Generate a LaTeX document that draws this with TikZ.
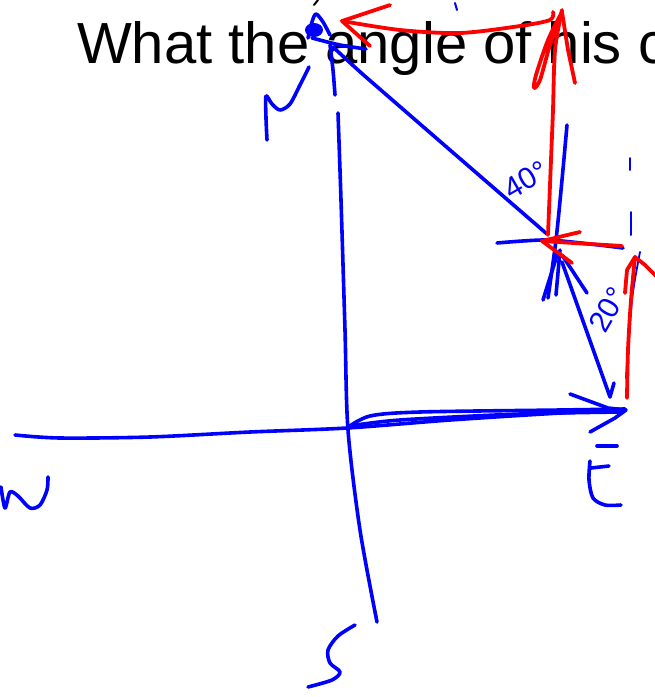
\documentclass[tikz,border=0pt]{standalone}
\usepackage{fontspec}
\setmainfont{Liberation Sans}
\begin{document}
\begin{tikzpicture}[x=1pt,y=-1pt,
 bpen/.style={draw=blue,line width=3.6pt,line cap=round,line join=round},
 rpen/.style={draw=red,line width=3.8pt,line cap=round,line join=round},
 hand/.style={text=blue,inner sep=0pt,font=\fontsize{30}{30}\selectfont}]
\useasboundingbox (0,0) rectangle (655,697);
\clip (0,0) rectangle (655,697);
\node[anchor=base west,inner sep=0pt,font=\fontsize{58}{58}\selectfont] (q) at (77,63) {What the angle of his c};
\draw[black,line width=2pt,line cap=round] (318,0) -- (314,5);
\draw[bpen,line width=2pt] (455,3) -- (457,10);
% N-S axis
\draw[bpen] plot[smooth] coordinates {(338,113) (341,200) (345,330) (348,430) (360,530) (377,622)};
\draw[bpen] plot[smooth] coordinates {(330,45) (333,70) (335,95)};
% blob and top
\fill[blue] (314,30) ellipse (9 and 7);
\draw[bpen] plot[smooth] coordinates {(308,38) (312,22) (316,14) (323,22) (330,35)};
\draw[bpen] plot[smooth] coordinates {(312,38) (340,45) (366,49)};
% N
\draw[bpen] plot[smooth] coordinates {(267,140) (266,118) (266,96) (272,104) (280,110) (290,104) (300,85) (309,67)};
% diagonal
\draw[bpen] plot[smooth] coordinates {(333,47) (358,70) (382,91) (450,150) (547,234)};
% blue vertical at junction
\draw[bpen] plot[smooth] coordinates {(567,125) (562,180) (556,240) (548,298)};
\draw[bpen] (560,250) -- (556,295);
\draw[bpen] (562,255) -- (587,293);
\draw[bpen] (558,252) -- (543,300);
% horizontal through junction
\draw[bpen] plot[smooth] coordinates {(497,243) (545,240) (590,244) (623,248)};
% line to E
\draw[bpen] (562,262) -- (610,397) -- (614,383);
% dashes
\draw[bpen,line width=2pt] (630,158) -- (630,170);
\draw[bpen,line width=2pt] (631,212) -- (631,235);
\draw[bpen,line width=1.8pt] plot[smooth] coordinates {(640,252) (632,300) (626,378)};
% E-W axis
\draw[bpen] plot[smooth] coordinates {(15,435) (60,438) (150,437) (250,432) (347,428) (450,420) (560,413) (625,410)};
\draw[bpen] plot[smooth] coordinates {(347,428) (370,416) (420,412) (560,410) (625,409)};
\draw[bpen] plot[smooth] coordinates {(350,426) (400,420) (520,414) (620,412)};
\draw[bpen] (570,394) -- (608,408) -- (626,410) -- (615,418) -- (590,432);
% E
\draw[bpen] (597,446) -- (617,446);
\draw[bpen] plot[smooth] coordinates {(590,461) (589,480) (593,498) (605,505) (621,505)};
\draw[bpen] (591,468) -- (609,466);
% W
\draw[bpen] plot[smooth] coordinates {(1,487) (5,508) (10,492) (18,496) (30,508) (40,505) (47,490) (48,477)};
% S
\draw[bpen] plot[smooth] coordinates {(355,625) (338,636) (328,650) (330,663) (340,672) (332,680) (308,687)};
% labels
\node[hand,rotate=30] (a40) at (526,180) {40\textdegree};
\node[hand,rotate=60] (a20) at (608,310) {20\textdegree};
% red top arrow
\draw[rpen] plot[smooth] coordinates {(553,12) (550,20) (520,26) (460,33) (400,30) (342,21)};
\draw[rpen] (390,5) -- (342,21) -- (370,46);
% red vertical up
\draw[rpen] plot[smooth] coordinates {(548,235) (551,160) (553,110) (555,50) (562,10)};
\draw[rpen] plot[smooth] coordinates {(562,12) (548,40) (536,75) (534,88) (540,80) (550,45) (562,12)};
\draw[rpen] (562,12) -- (568,50) -- (575,83);
% red at junction
\draw[rpen] (622,246) -- (542,241);
\draw[rpen] (580,232) -- (542,241) -- (572,263);
% red right vertical
\draw[rpen] plot[smooth] coordinates {(627,398) (628,350) (631,300) (635,257)};
\draw[rpen] (625,293) -- (627,270) -- (635,257) -- (645,265) -- (660,280);
\end{tikzpicture}
\end{document}
